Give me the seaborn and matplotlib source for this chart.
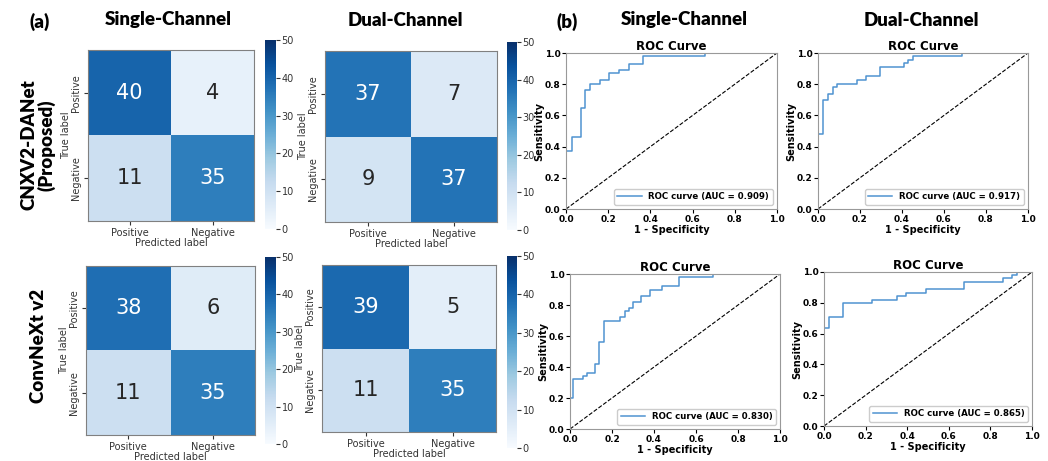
import numpy as np
import matplotlib
matplotlib.use("Agg")
import matplotlib.pyplot as plt
import seaborn as sns

# Confusion matrices (rows: true Positive/Negative, cols: predicted Positive/Negative)
class_labels = ["Positive", "Negative"]
cm_danet_single = [[40, 4], [11, 35]]
cm_danet_dual = [[37, 7], [9, 37]]
cm_convnext_single = [[38, 6], [11, 35]]
cm_convnext_dual = [[39, 5], [11, 35]]

# ROC curve vertices (fpr, tpr)
roc_danet_single_fpr = [0, 0, 0.027, 0.027, 0.07, 0.07, 0.09, 0.09, 0.114, 0.114, 0.16, 0.16,
                        0.204, 0.204, 0.253, 0.253, 0.30, 0.30, 0.367, 0.367, 0.66, 0.66, 1.0]
roc_danet_single_tpr = [0, 0.37, 0.37, 0.46, 0.46, 0.65, 0.65, 0.76, 0.76, 0.80, 0.80, 0.83,
                        0.83, 0.87, 0.87, 0.89, 0.89, 0.93, 0.93, 0.98, 0.98, 1.0, 1.0]
roc_danet_dual_fpr = [0, 0, 0.022, 0.022, 0.046, 0.046, 0.07, 0.07, 0.09, 0.09, 0.185, 0.185,
                      0.23, 0.23, 0.296, 0.296, 0.41, 0.41, 0.43, 0.43, 0.454, 0.454, 0.684, 0.684, 1.0]
roc_danet_dual_tpr = [0, 0.48, 0.48, 0.70, 0.70, 0.74, 0.74, 0.78, 0.78, 0.80, 0.80, 0.83,
                      0.83, 0.85, 0.85, 0.91, 0.91, 0.935, 0.935, 0.957, 0.957, 0.98, 0.98, 1.0, 1.0]
roc_convnext_single_fpr = [0, 0, 0.016, 0.016, 0.063, 0.063, 0.08, 0.08, 0.12, 0.12, 0.138, 0.138,
                           0.16, 0.16, 0.24, 0.24, 0.26, 0.26, 0.28, 0.28, 0.30, 0.30, 0.34, 0.34,
                           0.38, 0.38, 0.44, 0.44, 0.52, 0.52, 0.68, 0.68, 1.0]
roc_convnext_single_tpr = [0, 0.20, 0.20, 0.32, 0.32, 0.34, 0.34, 0.36, 0.36, 0.42, 0.42, 0.56,
                           0.56, 0.70, 0.70, 0.72, 0.72, 0.76, 0.76, 0.78, 0.78, 0.82, 0.82, 0.86,
                           0.86, 0.90, 0.90, 0.92, 0.92, 0.98, 0.98, 1.0, 1.0]
roc_convnext_dual_fpr = [0, 0, 0.024, 0.024, 0.093, 0.093, 0.23, 0.23, 0.35, 0.35, 0.395, 0.395,
                         0.49, 0.49, 0.674, 0.674, 0.86, 0.86, 0.904, 0.904, 0.928, 0.928, 1.0]
roc_convnext_dual_tpr = [0, 0.635, 0.635, 0.705, 0.705, 0.80, 0.80, 0.82, 0.82, 0.843, 0.843, 0.865,
                         0.865, 0.889, 0.889, 0.935, 0.935, 0.959, 0.959, 0.98, 0.98, 1.0, 1.0]
auc_values = [0.909, 0.917, 0.830, 0.865]

fig = plt.figure(figsize=(10.48, 4.61), dpi=100)

# --- confusion matrices: heatmap box, colorbar box ---
cm_layout = [
    (cm_danet_single, [0.0840, 0.5206, 0.1584, 0.3710], [0.2529, 0.5033, 0.0105, 0.4100]),
    (cm_danet_dual, [0.3101, 0.5184, 0.1641, 0.3709], [0.4838, 0.5011, 0.0095, 0.4078]),
    (cm_convnext_single, [0.0821, 0.0564, 0.1613, 0.3666], [0.2529, 0.0369, 0.0105, 0.4056]),
    (cm_convnext_dual, [0.3073, 0.0620, 0.1660, 0.3640], [0.4838, 0.0282, 0.0095, 0.4165]),
]
for cm, pos, cpos in cm_layout:
    ax = fig.add_axes(pos)
    cax = fig.add_axes(cpos)
    sns.heatmap(np.array(cm), annot=True, fmt="d", cmap="Blues", vmin=0, vmax=50,
                ax=ax, cbar_ax=cax, annot_kws={"size": 15},
                xticklabels=class_labels, yticklabels=class_labels)
    for s in ax.spines.values():
        s.set_visible(True)
        s.set_color("#808080")
    ax.tick_params(length=3, labelsize=7, colors="#333333", pad=2)
    ax.set_yticklabels(class_labels, rotation=90, va="center")
    ax.set_xlabel("Predicted label", fontsize=7, labelpad=0, color="#333333")
    ax.set_ylabel("True label", fontsize=7, labelpad=0, color="#333333")
    cax.tick_params(labelsize=7, length=3, pad=1, colors="#333333")
    cax.set_yticks([0, 10, 20, 30, 40, 50])
    cb = ax.collections[0].colorbar
    cb.outline.set_visible(True)
    cb.outline.set_edgecolor("#808080")

# --- ROC curves ---
roc_layout = [
    (roc_danet_single_fpr, roc_danet_single_tpr, auc_values[0], [0.5401, 0.5466, 0.2013, 0.3384]),
    (roc_danet_dual_fpr, roc_danet_dual_tpr, auc_values[1], [0.7805, 0.5466, 0.2004, 0.3384]),
    (roc_convnext_single_fpr, roc_convnext_single_tpr, auc_values[2], [0.5439, 0.0694, 0.2004, 0.3362]),
    (roc_convnext_dual_fpr, roc_convnext_dual_tpr, auc_values[3], [0.7863, 0.0759, 0.1985, 0.3341]),
]
for fpr, tpr, auc, pos in roc_layout:
    ax = fig.add_axes(pos)
    sns.lineplot(x=fpr, y=tpr, ax=ax, estimator=None, sort=False, color="#4f93d1",
                 linewidth=1.1, label=f"ROC curve (AUC = {auc:.3f})")
    ax.plot([0, 1], [0, 1], linestyle="--", color="black", linewidth=0.8)
    ax.set_xlim(0, 1)
    ax.set_ylim(0, 1)
    ax.set_xticks([0, 0.2, 0.4, 0.6, 0.8, 1.0])
    ax.set_yticks([0, 0.2, 0.4, 0.6, 0.8, 1.0])
    ax.tick_params(labelsize=6.5, length=3, pad=1)
    for lab in ax.get_xticklabels() + ax.get_yticklabels():
        lab.set_fontweight("bold")
    for s in ax.spines.values():
        s.set_color("#999999")
    ax.set_title("ROC Curve", fontsize=8.5, fontweight="bold", pad=2)
    ax.set_xlabel("1 - Specificity", fontsize=7, fontweight="bold", labelpad=1)
    ax.set_ylabel("Sensitivity", fontsize=7, fontweight="bold", labelpad=0.5)
    ax.legend(loc="lower right", prop={"size": 6.2, "weight": "bold"}, handlelength=2.8,
              borderpad=0.4, framealpha=1)

# --- headings ---
head = dict(fontsize=13.5, fontweight="heavy", family="Lato", ha="center", va="center")
fig.text(40 / 1048, 1 - 22 / 461, "(a)", **head)
fig.text(168 / 1048, 1 - 20 / 461, "Single-Channel", **head)
fig.text(405 / 1048, 1 - 20 / 461, "Dual-Channel", **head)
fig.text(567 / 1048, 1 - 22 / 461, "(b)", **head)
fig.text(684 / 1048, 1 - 20 / 461, "Single-Channel", **head)
fig.text(921 / 1048, 1 - 20 / 461, "Dual-Channel", **head)
fig.text(38 / 1048, 1 - 145 / 461, "CNXV2-DANet\n(Proposed)", rotation=90,
         linespacing=1.0, **head)
fig.text(38 / 1048, 1 - 346 / 461, "ConvNeXt v2", rotation=90, **head)

fig.savefig("out.png", dpi=100)
